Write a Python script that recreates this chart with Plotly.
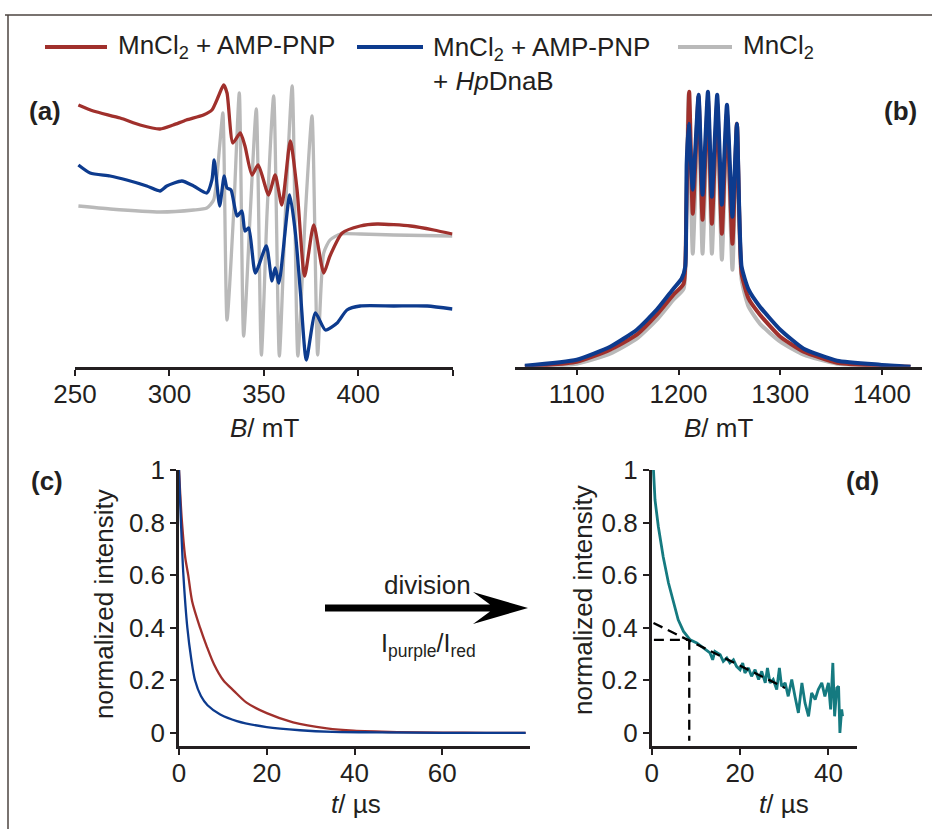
import plotly.graph_objects as go

# ---- data ----
SERIES = ["MnCl<sub>2</sub> + AMP-PNP",
          "MnCl<sub>2</sub> + AMP-PNP<br>+ <i>Hp</i>DnaB",
          "MnCl<sub>2</sub>"]

# (a) X-band cw EPR, B in mT, intensity in arbitrary units
a_b_red = [251.8, 259.7, 273.9, 284.5, 295, 302, 309, 318, 322.5, 326, 328.7, 330.5, 333.6, 337.5,
           340, 343.7, 347, 352.5, 356, 359.5, 364, 367.6, 371.6, 376.4, 381.7, 385, 391.5, 401,
           410, 427.7, 440, 449.8]
a_i_red = [262, 256, 249, 242, 238, 242, 247, 252, 257, 271, 282, 274, 224, 234,
           221, 192, 202, 172, 192, 162, 226, 177, 91, 142, 94, 111, 134, 141,
           143, 141, 137, 133]

a_b_blue = [251.8, 258, 268.6, 277.4, 288, 295, 298.6, 306.6, 312.8, 319.8, 322.5, 323.7, 326.6,
            329, 330.5, 332.6, 335.8, 338.4, 340, 342, 345.5, 351.3, 354.3, 356, 358, 363.7,
            366.7, 369.4, 372.5, 377.3, 382.6, 388.8, 394, 401, 418.8, 436.5, 449.8]
a_i_blue = [202, 194, 191, 187, 181, 176, 181, 186, 181, 174, 187, 207, 161,
            191, 179, 177, 151, 156, 136, 139, 94, 121, 86, 99, 84, 172,
            134, 74, 7, 54, 37, 44, 57, 61, 61, 61, 58]

a_b_gray = [251.8, 268.6, 295, 312.8, 319.8, 323.4, 326.6, 328.3, 330.5, 334, 337, 339.3, 342.8,
            346, 348.7, 351.7, 355.2, 358.2, 361.4, 365, 368, 372, 375.5, 378.5, 381.7, 385,
            390.5, 401, 418.8, 449.8]
a_i_gray = [161, 158, 155, 157, 159, 167, 221, 254, 47, 154, 274, 31, 154,
            258, 12, 154, 271, 11, 154, 281, 11, 154, 251, 12, 114, 127,
            133, 133, 132, 131]

# (b) echo-detected field sweep
b_b_blue = [1049, 1100, 1132.8, 1159, 1178.7, 1195, 1203, 1206.6, 1208, 1210, 1214, 1219.7, 1223.6,
            1228.9, 1232.8, 1238, 1242.6, 1247.6, 1253, 1257.4, 1262, 1268.9, 1280, 1300, 1323,
            1355.8, 1398, 1428]
b_i_blue = [1, 7, 20, 37, 57, 78, 88, 100, 203, 243, 177, 272, 172,
            275, 170, 272, 162, 262, 150, 243, 100, 77, 60, 37, 18,
            6, 2, 0]

b_b_red = [1049, 1100, 1132.8, 1159, 1178.7, 1195, 1205, 1207.6, 1210.5, 1214, 1219.7, 1223.6,
           1228.9, 1232.8, 1238, 1242.6, 1247.6, 1253, 1257.4, 1262, 1268.9, 1280, 1300, 1323,
           1355.8, 1398, 1428]
b_i_red = [0, 5, 17, 32, 52, 72, 83, 153, 275, 153, 270, 147,
           267, 143, 263, 133, 253, 123, 243, 93, 68, 52, 30, 15,
           4, 1, 0]

b_b_gray = [1049, 1100, 1132.8, 1159, 1178.7, 1195, 1205, 1207.6, 1210, 1214, 1219.7, 1223.6,
            1228.9, 1232.8, 1238, 1242.6, 1247.6, 1253, 1257.4, 1262, 1268.9, 1280, 1300, 1323,
            1355.8, 1398, 1428]
b_i_gray = [0, 3, 13, 28, 47, 67, 78, 153, 273, 113, 267, 113,
            263, 113, 260, 107, 250, 97, 240, 87, 60, 43, 25, 12,
            3, 1, 0]

# (c) decay traces
c_t_red = [0, 0.6, 1.4, 2.1, 3.0, 4.8, 6.3, 8.0, 10.1, 12.5, 15.4, 20, 26, 33.7, 39.8, 50, 60, 70, 79]
c_y_red = [1.0, 0.82, 0.67, 0.6, 0.5, 0.4, 0.33, 0.26, 0.2, 0.16, 0.115, 0.075, 0.04, 0.017, 0.008,
           0.003, 0.001, 0.0, 0.0]
c_t_blue = [0, 0.3, 0.6, 1.0, 1.9, 2.8, 3.65, 5, 6.5, 9.4, 13.2, 20, 27.6, 35, 45, 60, 79]
c_y_blue = [1.0, 0.86, 0.74, 0.6, 0.4, 0.28, 0.2, 0.14, 0.105, 0.07, 0.045, 0.022, 0.01, 0.004,
            0.002, 0.0, 0.0]

# (d) ratio trace
d_t = [0.4, 0.75, 1.5, 2.6, 3.8, 4.9, 6.0, 7.2, 8.7, 10.2, 11.7, 13.2, 13.8, 14.3, 15.5, 16.2, 17.0,
       17.7, 18.5, 19.2, 20.0, 20.6, 21.1, 21.9, 22.6, 23.4, 24.2, 24.9, 25.7, 26.2, 26.8, 27.5,
       28.3, 28.9, 29.4, 30.2, 30.9, 31.7, 32.5, 33.2, 34.0, 34.7, 35.5, 36.2, 37.0, 37.7, 38.5,
       39.2, 40.0, 40.5, 41.0, 41.4, 41.9, 42.3, 42.6, 43.0, 43.2]
d_y = [1.0, 0.886, 0.785, 0.67, 0.57, 0.494, 0.43, 0.386, 0.354, 0.342, 0.323, 0.304, 0.278, 0.31,
       0.297, 0.272, 0.285, 0.266, 0.278, 0.253, 0.24, 0.266, 0.228, 0.247, 0.215, 0.24, 0.203,
       0.234, 0.19, 0.247, 0.19, 0.203, 0.165, 0.247, 0.177, 0.19, 0.139, 0.203, 0.133, 0.076,
       0.19, 0.114, 0.063, 0.152, 0.127, 0.165, 0.19, 0.139, 0.19, 0.089, 0.266, 0.063, 0.171,
       0.177, 0.0, 0.089, 0.063]
fit_t = [0.4, 30.2]
fit_y = [0.418, 0.171]
mark_t = 8.5
mark_y = 0.354

RED, BLUE, GRAY, TEAL = "#A0302C", "#0D3B8E", "#B9B9B9", "#157A80"
INK = "#231F20"
FONT = "Liberation Sans, Arial, sans-serif"
W, H = 932, 829


def px(x):
    return x / W


def py(y):
    return 1 - y / H


fig = go.Figure()

def add(x, y, color, width, ax, smooth=0.6, dash=None):
    fig.add_trace(go.Scatter(x=x, y=y, mode="lines", xaxis="x" + ax, yaxis="y" + ax,
                             line=dict(color=color, width=width, shape="spline" if smooth else "linear",
                                       smoothing=smooth if smooth else None, dash=dash),
                             showlegend=False, hoverinfo="skip"))

add(a_b_gray, a_i_gray, GRAY, 3.3, "")
add(a_b_red, a_i_red, RED, 3.3, "")
add(a_b_blue, a_i_blue, BLUE, 3.3, "")
add(b_b_gray, b_i_gray, GRAY, 4, "2", 0.5)
add(b_b_red, b_i_red, RED, 4, "2", 0.5)
add(b_b_blue, b_i_blue, BLUE, 4, "2", 0.5)
add(c_t_red, c_y_red, RED, 2.3, "3", 0.8)
add(c_t_blue, c_y_blue, BLUE, 2.3, "3", 0.8)
add(d_t, d_y, TEAL, 2.8, "4", 0)
add(fit_t, fit_y, "black", 2.3, "4", 0, dash="10px,6px")
add([0.5, mark_t], [mark_y, mark_y], "black", 2.3, "4", 0, dash="10px,6px")
add([mark_t, mark_t], [mark_y, -0.03], "black", 2.3, "4", 0, dash="10px,6px")

axis_common = dict(showline=True, linecolor=INK, linewidth=2.5, ticks="outside", ticklen=6,
                   tickwidth=2, tickcolor=INK, showgrid=False, zeroline=False, automargin=False,
                   tickfont=dict(size=26, color=INK, family=FONT))
x_common = dict(axis_common, ticklabelstandoff=-4)

fig.update_layout(
    template="none",
    width=W, height=H, margin=dict(l=0, r=0, t=0, b=0, pad=0, autoexpand=False),
    paper_bgcolor="white", plot_bgcolor="white", showlegend=False,
    font=dict(family=FONT, color=INK, size=26),
    xaxis=dict(domain=[px(75), px(452.7)], range=[250, 450], anchor="y",
               tickvals=[250, 300, 350, 400, 450], ticktext=["250", "300", "350", "400", ""],
               **x_common),
    yaxis=dict(domain=[py(367), py(81)], range=[0, 286], visible=False, anchor="x"),
    xaxis2=dict(domain=[px(515), px(921.7)], range=[1039.3, 1439], anchor="y2",
                tickvals=[1100, 1200, 1300, 1400], **x_common),
    yaxis2=dict(domain=[py(366.7), py(80.7)], range=[0, 286], visible=False, anchor="x2"),
    xaxis3=dict(domain=[px(179), px(530)], range=[0, 80], anchor="y3",
                tickvals=[0, 20, 40, 60], **x_common),
    yaxis3=dict(domain=[py(746), py(470)], range=[-0.05, 1.0], anchor="x3",
                tickvals=[0, 0.2, 0.4, 0.6, 0.8, 1], ticktext=["0", "0.2", "0.4", "0.6", "0.8", "1"],
                **axis_common),
    xaxis4=dict(domain=[px(651.7), px(856.7)], range=[0, 46.4], anchor="y4",
                tickvals=[0, 20, 40], **x_common),
    yaxis4=dict(domain=[py(746), py(470)], range=[-0.05, 1.0], anchor="x4",
                tickvals=[0, 0.2, 0.4, 0.6, 0.8, 1], ticktext=["0", "0.2", "0.4", "0.6", "0.8", "1"],
                **axis_common),
)

# frame (top and left edges only, as in the reference)
fig.add_shape(type="line", xref="paper", yref="paper", x0=px(5), x1=1, y0=py(15), y1=py(15),
              line=dict(color="#4d4540", width=1.5))
fig.add_shape(type="line", xref="paper", yref="paper", x0=px(8), x1=px(8), y0=py(15), y1=0,
              line=dict(color="#4d4540", width=1.5))


def note(text, x, y, size=26, xanchor="center", angle=0):
    fig.add_annotation(text=text, xref="paper", yref="paper", x=px(x), y=py(y),
                       xanchor=xanchor, yanchor="middle", align="left", textangle=angle,
                       showarrow=False, font=dict(size=size))


# legend drawn by hand so the line samples match
legend_pos = [(45, 107, 116, 47), (357, 423, 431, 63.5), (678, 732, 741, 47)]
for name, color, (l0, l1, tx, ty) in zip(SERIES, [RED, BLUE, GRAY], legend_pos):
    fig.add_shape(type="line", xref="paper", yref="paper", x0=px(l0), x1=px(l1), y0=py(47), y1=py(47),
                  line=dict(color=color, width=4))
    note(name, tx, ty, xanchor="left")

# panel labels
for lab, x, y in [("(a)", 45, 111), ("(b)", 900, 111), ("(c)", 47, 481), ("(d)", 862, 481)]:
    note("<b>%s</b>" % lab, x, y)

# axis titles
note("<i>B</i>/ mT", 264, 428)
note("<i>B</i>/ mT", 718, 428)
note("<i>t</i>/ µs", 356, 804)
note("<i>t</i>/ µs", 784, 804)
note("normalized intensity", 104, 604, angle=-90)
note("normalized intensity", 583, 600, angle=-90)

# division arrow
arrow = "M {0},{1} L {2},{1} L {3},{4} L {5},{6} L {3},{7} L {2},{8} L {0},{8} Z".format(
    px(325), py(604.5), px(490), px(473), py(592), px(528), py(608), py(624), py(611.5))
fig.add_shape(type="path", xref="paper", yref="paper", path=arrow,
              fillcolor="black", line=dict(color="black", width=0))
note("division", 427, 585)
note("I<sub>purple</sub>/I<sub>red</sub>", 428, 645, size=25)

fig.write_html("out.html", config={"displayModeBar": False},
               post_script="document.body.style.margin='0';")
